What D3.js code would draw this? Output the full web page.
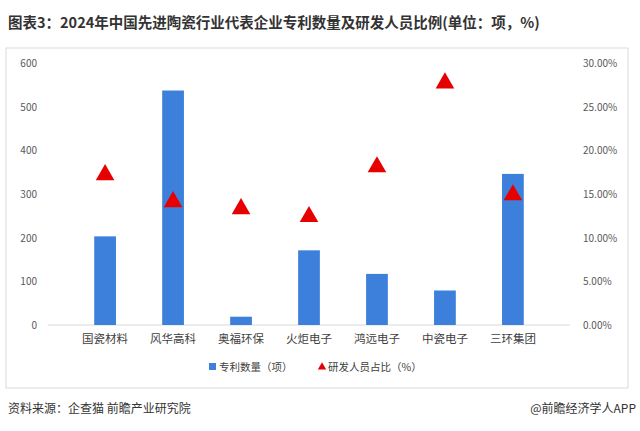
<!DOCTYPE html>
<html><head><meta charset="utf-8">
<script src="https://cdn.jsdelivr.net/npm/d3@7"></script>
<style>body{margin:0;background:#fff;font-family:"Noto Sans CJK SC","Noto Sans",sans-serif}</style>
</head><body><svg id="c" width="640" height="431"></svg>
<script>
const companies = ['国瓷材料','风华高科','奥福环保','火炬电子','鸿远电子','中瓷电子','三环集团'];
const patents = [203, 537, 19, 171, 117, 79, 346];
const staffRatio = [0.172, 0.141, 0.133, 0.124, 0.181, 0.277, 0.149];
const leftTicks = [0,100,200,300,400,500,600];
const rightTicks = [0,0.05,0.10,0.15,0.20,0.25,0.30];

const svg = d3.select('#c');
const font = '"Noto Sans CJK SC",sans-serif';

svg.append('text').attr('x',8).attr('y',28).attr('font-size',14.5).attr('font-weight','bold')
  .attr('fill','#333').attr('font-family',font)
  .text('图表3：2024年中国先进陶瓷行业代表企业专利数量及研发人员比例(单位：项，%)');

svg.append('rect').attr('x',6).attr('y',48).attr('width',622).attr('height',340)
  .attr('fill','none').attr('stroke','#d9d9d9');

const x = d3.scaleBand().domain(companies).range([48,570]).padding(0.68);
const y = d3.scaleLinear().domain([0,600]).range([325,63]);
const y2 = d3.scaleLinear().domain([0,0.3]).range([325,63]);

svg.append('line').attr('x1',48).attr('x2',570).attr('y1',325).attr('y2',325).attr('stroke','#d9d9d9');

svg.selectAll('.lt').data(leftTicks).join('text')
  .attr('x',37).attr('y',d=>y(d)+4).attr('text-anchor','end')
  .attr('font-size',10).attr('fill','#595959').attr('font-family',font).text(d=>d);
svg.selectAll('.rt').data(rightTicks).join('text')
  .attr('x',583).attr('y',d=>y2(d)+4)
  .attr('font-size',10).attr('fill','#595959').attr('font-family',font).text(d=>(d*100).toFixed(2)+'%');

svg.selectAll('.bar').data(patents).join('rect')
  .attr('x',(d,i)=>x(companies[i])).attr('width',x.bandwidth())
  .attr('y',d=>y(d)).attr('height',d=>325-y(d)).attr('fill','#3d80dc');

const tri = d3.symbol().type(d3.symbolTriangle).size(150);
svg.selectAll('.tri').data(staffRatio).join('path')
  .attr('d',tri).attr('fill','#e60000')
  .attr('transform',(d,i)=>`translate(${x(companies[i])+x.bandwidth()/2},${y2(d)})`);

svg.selectAll('.xl').data(companies).join('text')
  .attr('x',d=>x(d)+x.bandwidth()/2).attr('y',343).attr('text-anchor','middle')
  .attr('font-size',11.5).attr('fill','#404040').attr('font-family',font).text(d=>d);

// legend
svg.append('rect').attr('x',209).attr('y',363).attr('width',7).attr('height',7).attr('fill','#3d80dc');
svg.append('text').attr('x',219).attr('y',371).attr('font-size',10.5).attr('fill','#404040').attr('font-family',font).text('专利数量（项）');
svg.append('path').attr('d',d3.symbol().type(d3.symbolTriangle).size(30)()).attr('fill','#e60000')
  .attr('transform','translate(322,367)');
svg.append('text').attr('x',328).attr('y',371).attr('font-size',10.5).attr('fill','#404040').attr('font-family',font).text('研发人员占比（%）');

svg.append('text').attr('x',8).attr('y',413).attr('font-size',12).attr('fill','#333').attr('font-family',font).text('资料来源：企查猫 前瞻产业研究院');
svg.append('text').attr('x',636).attr('y',413).attr('text-anchor','end').attr('font-size',12).attr('fill','#333').attr('font-family',font).text('@前瞻经济学人APP');
</script></body></html>
